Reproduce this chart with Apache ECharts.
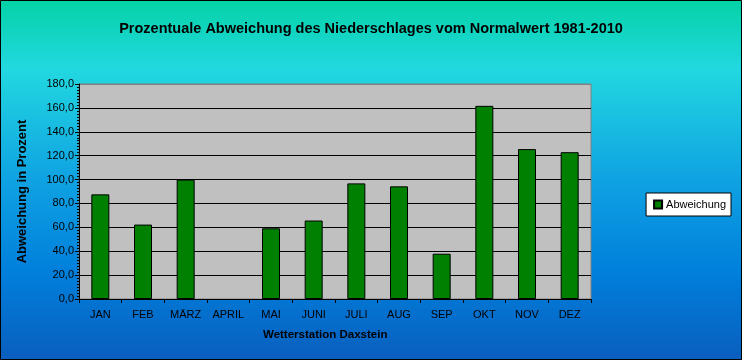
<!DOCTYPE html>
<html><head><meta charset="utf-8">
<script src="https://cdn.jsdelivr.net/npm/echarts@6/dist/echarts.min.js"></script>
<style>html,body{margin:0;padding:0;}#c{width:742px;height:360px;}</style>
</head><body><div id="c"></div>
<script>
const months = ['JAN','FEB','MÄRZ','APRIL','MAI','JUNI','JULI','AUG','SEP','OKT','NOV','DEZ'];
const abweichung = [87.6, 62.3, 100.0, null, 59.2, 65.7, 96.8, 94.3, 37.9, 161.7, 125.5, 122.9];
const seriesName = 'Abweichung';
const titleText = 'Prozentuale Abweichung des Niederschlages vom Normalwert 1981-2010';
const yName = 'Abweichung in Prozent';
const xName = 'Wetterstation Daxstein';

const chart = echarts.init(document.getElementById('c'));
chart.setOption({
  animation: false,
  backgroundColor: {
    type: 'linear', x: 0, y: 0, x2: 0, y2: 1,
    colorStops: [
      {offset: 0, color: '#04D2A6'},
      {offset: 0.19, color: '#22D8E0'},
      {offset: 0.5, color: '#0FA2E2'},
      {offset: 0.75, color: '#0080DC'},
      {offset: 1, color: '#0A5EBE'}
    ]
  },
  title: {
    text: titleText, left: 'center', top: 16,
    textStyle: {fontFamily: 'Liberation Sans, Arial', fontSize: 14.5, fontWeight: 'bold', color: '#000'}
  },
  graphic: [
    {type: 'rect', shape: {x: 0.5, y: 0.5, width: 741, height: 359}, style: {fill: 'none', stroke: '#000', lineWidth: 1}, z: 100},
    {type: 'text', left: 263, top: 329, style: {text: xName, font: 'bold 11.5px "Liberation Sans", Arial', fill: '#000'}}
  ],
  legend: {
    data: [seriesName], right: 11, top: 193, orient: 'vertical',
    backgroundColor: '#fff', borderColor: '#000', borderWidth: 1,
    padding: [6, 5, 6, 7], itemWidth: 8, itemHeight: 8, itemGap: 0,
    icon: 'rect',
    textStyle: {fontFamily: 'Liberation Sans, Arial', fontSize: 11, color: '#000', padding: [0, 0, 0, -1]}
  },
  grid: {left: 79, right: 151, top: 84, bottom: 61, show: true, backgroundColor: '#C0C0C0', borderWidth: 1, borderColor: '#808080'},
  xAxis: {
    type: 'category', data: months,
    axisLine: {lineStyle: {color: '#000', width: 1}},
    axisTick: {show: true, length: 4, lineStyle: {color: '#000'}, alignWithLabel: false},
    axisLabel: {fontFamily: 'Liberation Sans, Arial', fontSize: 11, color: '#000', margin: 10}
  },
  yAxis: {
    type: 'value', min: 0, max: 180, interval: 20,
    name: yName, nameLocation: 'middle', nameGap: 50, nameRotate: 90,
    nameTextStyle: {fontFamily: 'Liberation Sans, Arial', fontSize: 13, fontWeight: 'bold', color: '#000'},
    axisLine: {show: true, lineStyle: {color: '#000'}},
    axisTick: {show: true, length: 4, inside: false, lineStyle: {color: '#000'}},
    minorTick: {show: true, splitNumber: 8, length: 2, lineStyle: {color: '#000'}},
    splitLine: {show: true, lineStyle: {color: ['#000','#000','#000','#000','#000','#000','#000','#000','#000','#808080'], width: 1}},
    axisLabel: {fontFamily: 'Liberation Sans, Arial', fontSize: 11, color: '#000', margin: 5,
      formatter: v => v.toFixed(1).replace('.', ',')}
  },
  series: [{
    name: seriesName, type: 'bar', data: abweichung,
    barWidth: 18,
    itemStyle: {color: '#008000', borderColor: '#000', borderWidth: 1}
  }]
});
</script></body></html>
